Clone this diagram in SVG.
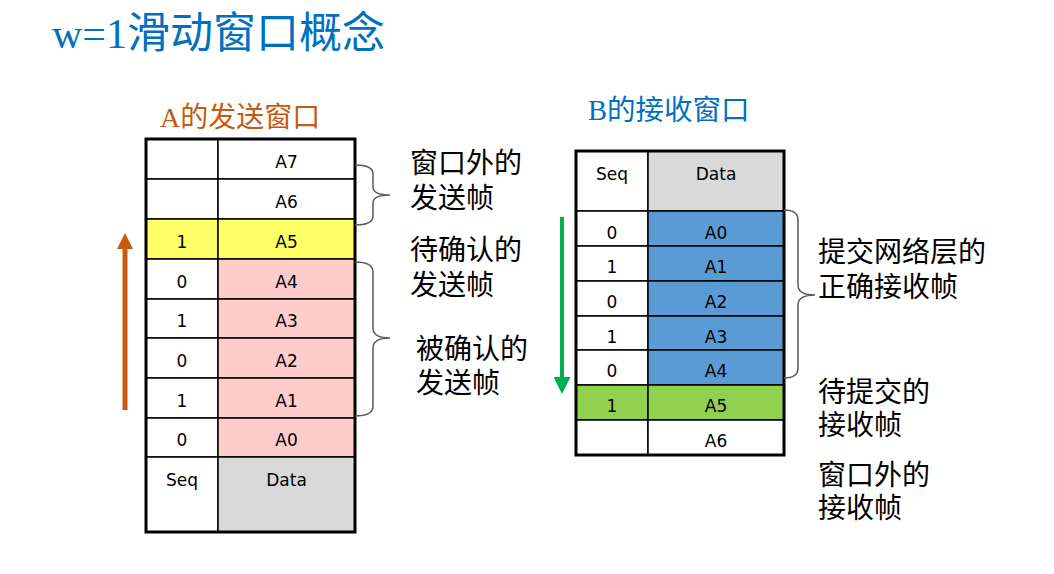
<svg xmlns="http://www.w3.org/2000/svg" width="1054" height="574" viewBox="0 0 1054 574">
<defs>
<style>
.cell{stroke:#000;stroke-width:1.5}
.w{fill:#fff}.y{fill:#FFFF66}.p{fill:#FFCCCC}.g{fill:#D9D9D9}.b{fill:#5B9BD5}.gr{fill:#92D050}
.frame{fill:none;stroke:#000;stroke-width:3}
.t{font-family:"DejaVu Sans","Liberation Sans",sans-serif;font-size:17px;fill:#000;text-anchor:middle}
.lbl{font-family:"Noto Sans CJK SC","Noto Sans",sans-serif;font-size:28px;fill:#000}
.brace{fill:none;stroke:#595959;stroke-width:1.5}
</style>
<marker id="headO" markerUnits="userSpaceOnUse" markerWidth="16" markerHeight="16" viewBox="0 0 16 16" refX="0" refY="8" orient="auto"><path d="M0,0 L16,8 L0,16 z" fill="#C55A11"/></marker>
<marker id="headG" markerUnits="userSpaceOnUse" markerWidth="17" markerHeight="17" viewBox="0 0 16 16" refX="0" refY="8" orient="auto"><path d="M0,0 L16,8 L0,16 z" fill="#00B050"/></marker>
</defs>
<rect width="1054" height="574" fill="#fff"/>
<g id="title">
<text x="52" y="48" fill="#0070C0"><tspan font-family="Liberation Serif,serif" font-size="42">w=1</tspan><tspan font-family="Noto Sans CJK SC,sans-serif" font-size="43">滑动窗口概念</tspan></text>
</g>
<g id="labelA"><text x="160" y="127" fill="#C55A11" font-size="28"><tspan font-family="Liberation Serif,serif">A</tspan><tspan font-family="Noto Sans CJK SC,sans-serif">的发送窗口</tspan></text></g>
<g id="labelB"><text x="588" y="120" fill="#0070C0" font-size="28.5"><tspan font-family="Liberation Serif,serif">B</tspan><tspan font-family="Noto Sans CJK SC,sans-serif">的接收窗口</tspan></text></g>

<g id="sendWindow">
<g id="sA7"><rect class="cell w" x="146" y="139" width="72" height="40"/><rect class="cell w" x="218" y="139" width="137" height="40"/><text class="t" x="286.5" y="168">A7</text></g>
<g id="sA6"><rect class="cell w" x="146" y="179" width="72" height="40"/><rect class="cell w" x="218" y="179" width="137" height="40"/><text class="t" x="286.5" y="208">A6</text></g>
<g id="sA5"><rect class="cell y" x="146" y="219" width="72" height="40"/><rect class="cell y" x="218" y="219" width="137" height="40"/><text class="t" x="182" y="248">1</text><text class="t" x="286.5" y="248">A5</text></g>
<g id="sA4"><rect class="cell w" x="146" y="259" width="72" height="40"/><rect class="cell p" x="218" y="259" width="137" height="40"/><text class="t" x="182" y="288">0</text><text class="t" x="286.5" y="288">A4</text></g>
<g id="sA3"><rect class="cell w" x="146" y="299" width="72" height="39"/><rect class="cell p" x="218" y="299" width="137" height="39"/><text class="t" x="182" y="327">1</text><text class="t" x="286.5" y="327">A3</text></g>
<g id="sA2"><rect class="cell w" x="146" y="338" width="72" height="40"/><rect class="cell p" x="218" y="338" width="137" height="40"/><text class="t" x="182" y="367">0</text><text class="t" x="286.5" y="367">A2</text></g>
<g id="sA1"><rect class="cell w" x="146" y="378" width="72" height="40"/><rect class="cell p" x="218" y="378" width="137" height="40"/><text class="t" x="182" y="407">1</text><text class="t" x="286.5" y="407">A1</text></g>
<g id="sA0"><rect class="cell w" x="146" y="418" width="72" height="39"/><rect class="cell p" x="218" y="418" width="137" height="39"/><text class="t" x="182" y="446">0</text><text class="t" x="286.5" y="446">A0</text></g>
<g id="sHead"><rect class="cell w" x="146" y="457" width="72" height="75"/><rect class="cell g" x="218" y="457" width="137" height="75"/><text class="t" x="182" y="486">Seq</text><text class="t" x="286.5" y="486">Data</text></g>
<rect class="frame" x="146" y="139" width="209" height="393"/>
</g>

<g id="recvWindow">
<g id="rHead"><rect class="cell w" x="576" y="151" width="72" height="60"/><rect class="cell g" x="648" y="151" width="136" height="60"/><text class="t" x="612" y="180">Seq</text><text class="t" x="716" y="180">Data</text></g>
<g id="rA0"><rect class="cell w" x="576" y="211" width="72" height="35"/><rect class="cell b" x="648" y="211" width="136" height="35"/><text class="t" x="612" y="239">0</text><text class="t" x="716" y="239">A0</text></g>
<g id="rA1"><rect class="cell w" x="576" y="246" width="72" height="35"/><rect class="cell b" x="648" y="246" width="136" height="35"/><text class="t" x="612" y="273">1</text><text class="t" x="716" y="273">A1</text></g>
<g id="rA2"><rect class="cell w" x="576" y="281" width="72" height="35"/><rect class="cell b" x="648" y="281" width="136" height="35"/><text class="t" x="612" y="308">0</text><text class="t" x="716" y="308">A2</text></g>
<g id="rA3"><rect class="cell w" x="576" y="316" width="72" height="34"/><rect class="cell b" x="648" y="316" width="136" height="34"/><text class="t" x="612" y="343">1</text><text class="t" x="716" y="343">A3</text></g>
<g id="rA4"><rect class="cell w" x="576" y="350" width="72" height="35"/><rect class="cell b" x="648" y="350" width="136" height="35"/><text class="t" x="612" y="377">0</text><text class="t" x="716" y="377">A4</text></g>
<g id="rA5"><rect class="cell gr" x="576" y="385" width="72" height="35"/><rect class="cell gr" x="648" y="385" width="136" height="35"/><text class="t" x="612" y="412">1</text><text class="t" x="716" y="412">A5</text></g>
<g id="rA6"><rect class="cell w" x="576" y="420" width="72" height="35"/><rect class="cell w" x="648" y="420" width="136" height="35"/><text class="t" x="716" y="447">A6</text></g>
<rect class="frame" x="576" y="151" width="208" height="304"/>
</g>

<g id="connectors">
<line x1="125" y1="410" x2="125" y2="249" stroke="#C55A11" stroke-width="5" marker-end="url(#headO)"/>
<line x1="562" y1="217" x2="562" y2="377" stroke="#00B050" stroke-width="4" marker-end="url(#headG)"/>
<path class="brace" d="M355,165 Q373,165 373,174 L373,187 Q373,195 390,195 Q373,195 373,203 L373,216 Q373,225 355,225"/>
<path class="brace" d="M355,262 Q373,262 373,272 L373,328 Q373,338 390,338 Q373,338 373,348 L373,406 Q373,416 355,416"/>
<path class="brace" d="M784,210 Q798,210 798,220 L798,285 Q798,295 815,295 Q798,295 798,305 L798,368 Q798,378 784,378"/>
</g>

<g id="noteOutside"><text class="lbl"><tspan x="410" y="173">窗口外的</tspan><tspan x="410" y="208">发送帧</tspan></text></g>
<g id="notePending"><text class="lbl"><tspan x="410" y="260">待确认的</tspan><tspan x="410" y="295">发送帧</tspan></text></g>
<g id="noteAcked"><text class="lbl"><tspan x="416" y="359">被确认的</tspan><tspan x="416" y="393">发送帧</tspan></text></g>
<g id="noteDelivered"><text class="lbl"><tspan x="818" y="262">提交网络层的</tspan><tspan x="818" y="297">正确接收帧</tspan></text></g>
<g id="noteToDeliver"><text class="lbl"><tspan x="818" y="402">待提交的</tspan><tspan x="818" y="435">接收帧</tspan></text></g>
<g id="noteRecvOutside"><text class="lbl"><tspan x="818" y="485">窗口外的</tspan><tspan x="818" y="518">接收帧</tspan></text></g>
</svg>
